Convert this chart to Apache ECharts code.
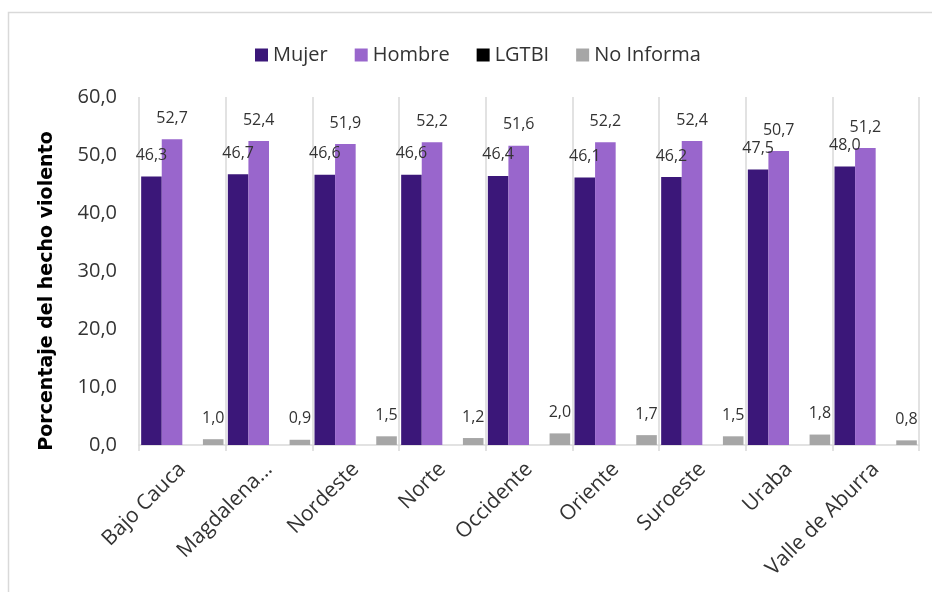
<!DOCTYPE html>
<html>
<head>
<meta charset="utf-8">
<script src="https://cdn.jsdelivr.net/npm/echarts@6/dist/echarts.min.js"></script>
<style>html,body{margin:0;padding:0;background:#fff}#c{width:932px;height:592px}</style>
</head>
<body>
<div id="c"></div>
<script>
const categories = ['Bajo Cauca','Magdalena...','Nordeste','Norte','Occidente','Oriente','Suroeste','Uraba','Valle de Aburra'];
const mujer = [46.3, 46.7, 46.6, 46.6, 46.4, 46.1, 46.2, 47.5, 48.0];
const hombre = [52.7, 52.4, 51.9, 52.2, 51.6, 52.2, 52.4, 50.7, 51.2];
const lgtbi = [0, 0, 0, 0, 0, 0, 0, 0, 0];
const noInforma = [1.0, 0.9, 1.5, 1.2, 2.0, 1.7, 1.5, 1.8, 0.8];
const yTicks = [0, 10, 20, 30, 40, 50, 60];

const fmt = v => v.toFixed(1).replace('.', ',');
const FONT = 'Open Sans';
const chart = echarts.init(document.getElementById('c'));

function mk(name, data, color) {
  return {
    name, type: 'bar', data, barGap: '0%', barCategoryGap: '5%',
    itemStyle: { color },
    label: {
      show: true, position: 'top', distance: 13,
      fontFamily: FONT, fontSize: 16, color: '#333333',
      formatter: p => p.value === 0 ? '' : fmt(p.value)
    }
  };
}

chart.setOption({
  animation: false,
  textStyle: { fontFamily: FONT },
  graphic: [
    { type: 'rect', shape: { x: 8.5, y: 12.5, width: 1000, height: 700 }, style: { fill: 'none', stroke: '#d9d9d9', lineWidth: 1.5 }, silent: true, z: -1 },
    { type: 'text', x: 47, y: 291, rotation: Math.PI / 2,
      style: { text: 'Porcentaje del hecho violento', font: 'bold 19px "DejaVu Sans"', fill: '#000', align: 'center', verticalAlign: 'middle' } }
  ],
  legend: {
    left: 250, top: 40, itemWidth: 13, itemHeight: 13, itemGap: 27,
    icon: 'rect',
    textStyle: { fontFamily: FONT, fontSize: 20, color: '#333333' },
    data: ['Mujer', 'Hombre', 'LGTBI', 'No Informa']
  },
  grid: { left: 139, right: 13, top: 97, bottom: 147 },
  xAxis: {
    type: 'category', data: categories,
    axisLine: { lineStyle: { color: '#d9d9d9', width: 1.5 } },
    axisTick: { show: true, length: 6, lineStyle: { color: '#d9d9d9', width: 1.5 } },
    splitLine: { show: true, lineStyle: { color: '#d9d9d9', width: 1.5 } },
    axisLabel: { rotate: 45, fontFamily: FONT, fontSize: 21, color: '#333333', margin: 21, interval: 0 }
  },
  yAxis: {
    type: 'value', min: yTicks[0], max: yTicks[yTicks.length - 1], interval: 10,
    axisLine: { show: false }, axisTick: { show: false }, splitLine: { show: false },
    axisLabel: { fontFamily: FONT, fontSize: 20, color: '#333333', margin: 22, formatter: v => fmt(v) }
  },
  series: [
    mk('Mujer', mujer, '#3b1779'),
    mk('Hombre', hombre, '#9966cc'),
    mk('LGTBI', lgtbi, '#000000'),
    mk('No Informa', noInforma, '#a6a6a6')
  ]
});
</script>
</body>
</html>
